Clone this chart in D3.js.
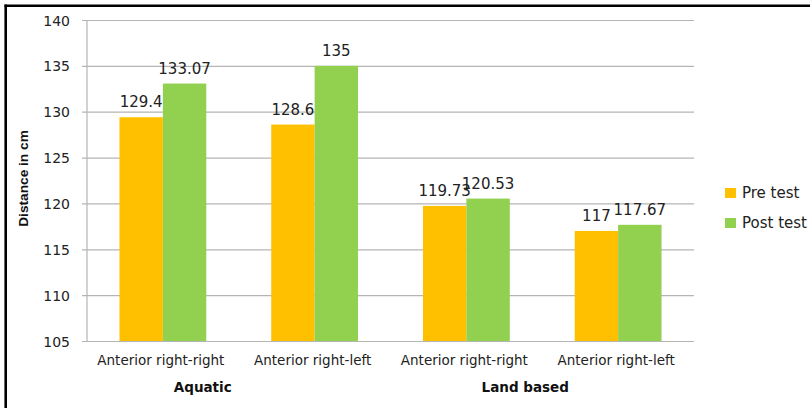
<!DOCTYPE html>
<html>
<head>
<meta charset="utf-8">
<script src="https://cdn.jsdelivr.net/npm/d3@7"></script>
<style>
  html, body { margin: 0; padding: 0; background: #fff; }
  svg { display: block; }
</style>
</head>
<body>
<svg id="chart" width="810" height="408"></svg>
<script>
// Balance distances (cm) for the two training groups, before and after training
const categories = ["Anterior right-right", "Anterior right-left", "Anterior right-right", "Anterior right-left"];
const groups = [
  { name: "Aquatic", from: 0, to: 1 },
  { name: "Land based", from: 2, to: 3 }
];
const seriesNames = ["Pre test", "Post test"];
const preTest = [129.4, 128.6, 119.73, 117];
const postTest = [133.07, 135, 120.53, 117.67];
const yTicks = [105, 110, 115, 120, 125, 130, 135, 140];

const colors = { "Pre test": "#FFC000", "Post test": "#92D050" };
const values = { "Pre test": preTest, "Post test": postTest };

const svg = d3.select("#chart");

// outer frame (top and left edges visible)
svg.append("line").attr("x1", 4.5).attr("x2", 810).attr("y1", 5.8).attr("y2", 5.8)
  .attr("stroke", "#000").attr("stroke-width", 2.6);
svg.append("line").attr("x1", 5.7).attr("x2", 5.7).attr("y1", 4.5).attr("y2", 408)
  .attr("stroke", "#000").attr("stroke-width", 2.6);

const plot = { left: 87, right: 694, top: 20, bottom: 341 };

const x0 = d3.scaleBand()
  .domain(d3.range(categories.length))
  .range([plot.left, plot.right])
  .paddingInner(0).paddingOuter(0);

const x1 = d3.scaleBand()
  .domain(seriesNames)
  .range([0, x0.bandwidth()])
  .paddingInner(0).paddingOuter(0.748);

const y = d3.scaleLinear().domain([105, 140]).range([plot.bottom, plot.top]);

const gridColor = "#b5b5b5";

// horizontal gridlines with outside tick marks
const yAxis = d3.axisLeft(y).tickValues(yTicks)
  .tickSize(-(plot.right - plot.left)).tickSizeOuter(0).tickPadding(17)
  .tickFormat(d3.format("d"));
const gy = svg.append("g").attr("transform", `translate(${plot.left},0)`).call(yAxis);
gy.select(".domain").remove();
gy.selectAll(".tick line").attr("stroke", gridColor).attr("stroke-width", 1.2).attr("x1", -5);
gy.selectAll(".tick text")
  .attr("font-family", "DejaVu Sans, sans-serif").attr("font-size", 14)
  .attr("fill", "#222").attr("dy", "0.36em");

// vertical axis line
svg.append("line")
  .attr("x1", plot.left).attr("x2", plot.left)
  .attr("y1", plot.top).attr("y2", plot.bottom)
  .attr("stroke", gridColor).attr("stroke-width", 1.2);

// bars
const catG = svg.append("g").selectAll("g")
  .data(categories.map((c, i) => i))
  .join("g")
  .attr("transform", i => `translate(${x0(i)},0)`);

catG.selectAll("rect")
  .data(i => seriesNames.map(s => ({ s, v: values[s][i] })))
  .join("rect")
  .attr("x", d => x1(d.s))
  .attr("width", x1.bandwidth())
  .attr("y", d => y(d.v))
  .attr("height", d => y(105) - y(d.v))
  .attr("fill", d => colors[d.s]);

// value labels
catG.selectAll("text.val")
  .data(i => seriesNames.map(s => ({ s, v: values[s][i] })))
  .join("text")
  .attr("class", "val")
  .attr("x", d => x1(d.s) + x1.bandwidth() / 2)
  .attr("y", d => y(d.v) - 10)
  .attr("text-anchor", "middle")
  .attr("font-family", "DejaVu Sans, sans-serif")
  .attr("font-size", 15)
  .attr("fill", "#222")
  .text(d => String(d.v));

// category labels
svg.append("g").selectAll("text")
  .data(categories)
  .join("text")
  .attr("x", (c, i) => x0(i) + x0.bandwidth() / 2 - 2)
  .attr("y", 365)
  .attr("text-anchor", "middle")
  .attr("font-family", "DejaVu Sans, sans-serif")
  .attr("font-size", 13.5)
  .attr("fill", "#222")
  .text(c => c);

// group labels
const groupNudge = [-36, -17];
svg.append("g").selectAll("text")
  .data(groups)
  .join("text")
  .attr("x", (g, i) => (x0(g.from) + x0(g.to) + x0.bandwidth()) / 2 + groupNudge[i])
  .attr("y", 392)
  .attr("text-anchor", "middle")
  .attr("font-family", "DejaVu Sans, sans-serif")
  .attr("font-weight", "bold")
  .attr("font-size", 13.5)
  .attr("fill", "#111")
  .text(g => g.name);

// y-axis title
svg.append("text")
  .attr("transform", `translate(28,${(plot.top + plot.bottom) / 2 - 2}) rotate(-90)`)
  .attr("text-anchor", "middle")
  .attr("font-family", "Liberation Sans, Arial, sans-serif")
  .attr("font-weight", "bold")
  .attr("font-size", 13.7)
  .attr("fill", "#111")
  .text("Distance in cm");

// legend
const legend = svg.append("g").selectAll("g")
  .data(seriesNames)
  .join("g")
  .attr("transform", (s, i) => `translate(725,${188 + i * 30})`);
legend.append("rect").attr("width", 11).attr("height", 10).attr("fill", s => colors[s]);
legend.append("text")
  .attr("x", 17).attr("y", 9.5)
  .attr("font-family", "DejaVu Sans, sans-serif")
  .attr("font-size", 15)
  .attr("fill", "#222")
  .text(s => s);
</script>
</body>
</html>
